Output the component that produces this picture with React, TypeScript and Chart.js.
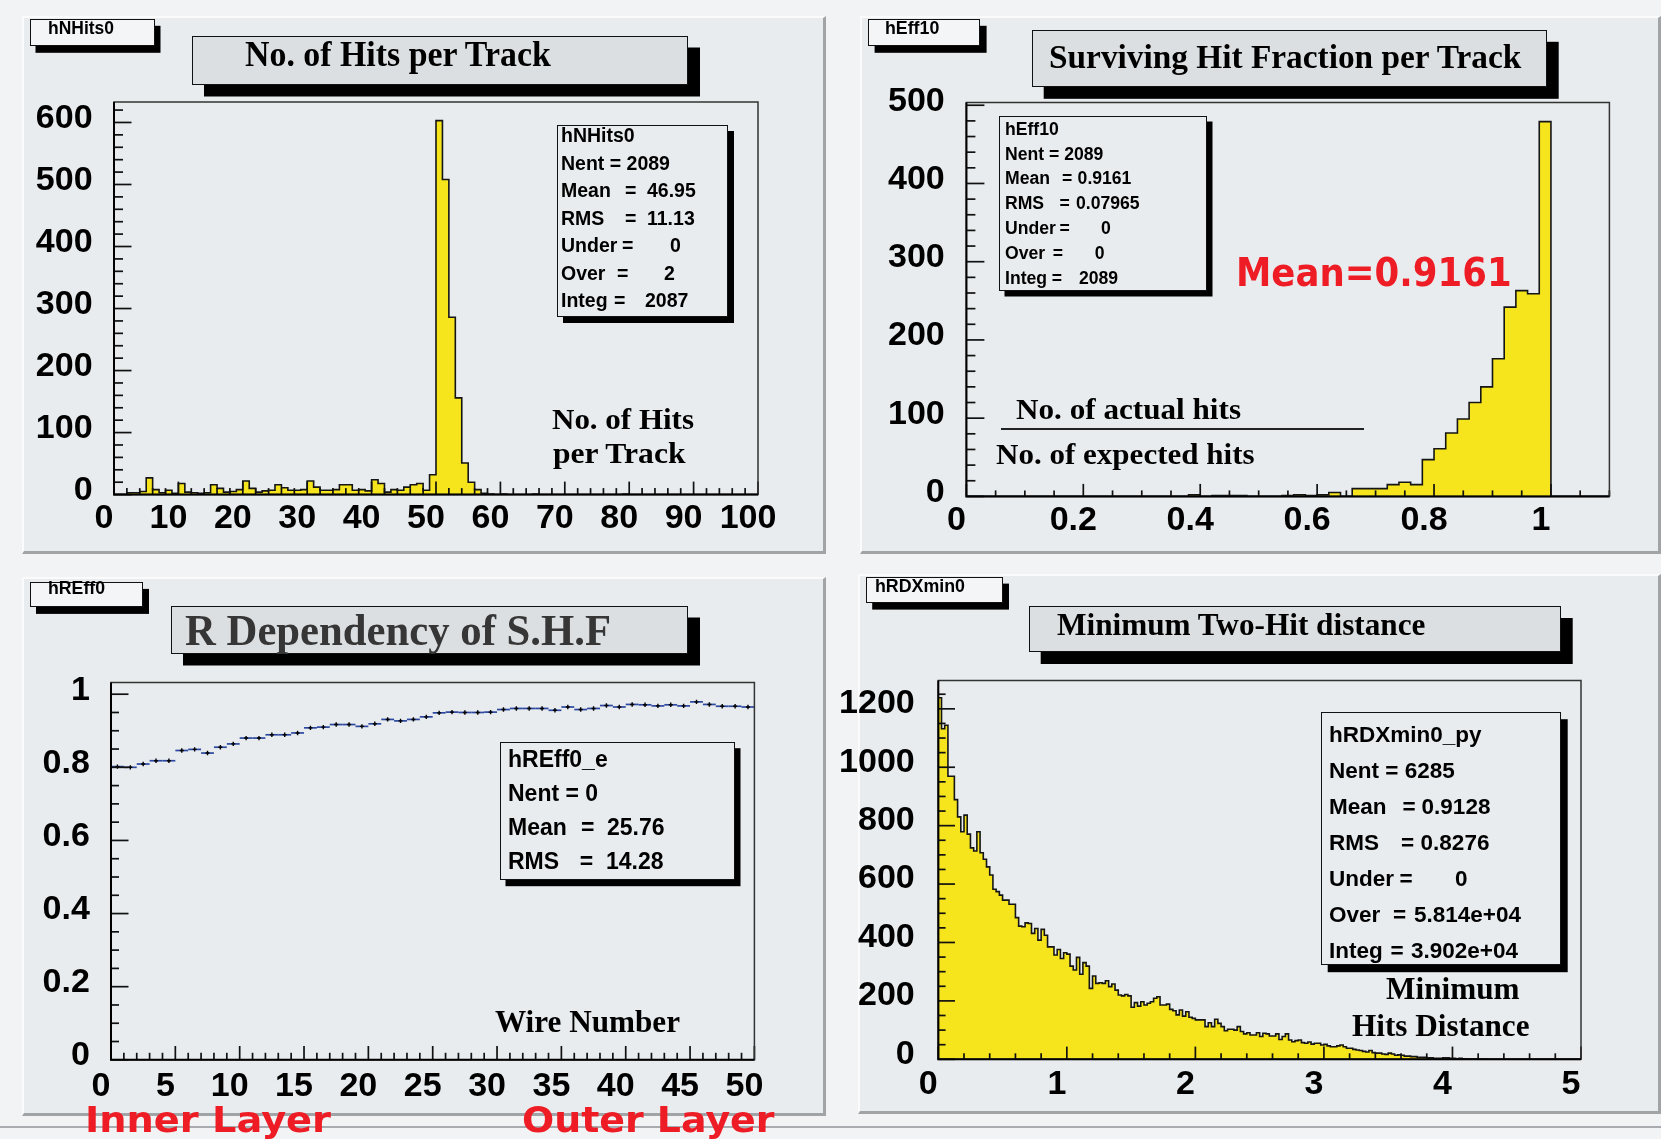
import React, { useEffect, useRef } from "react";
import { Chart, registerables } from "chart.js";

Chart.register(...registerables);

// ================= DATA =================
// Panel 1: No. of hits per track (100 bins, 0..100)
const nHitsRange = [0, 100];
const nHitsCounts = [
  0, 0, 3, 3, 5, 27, 8, 3, 7, 2,
  18, 4, 3, 2, 3, 16, 10, 4, 5, 8,
  22, 10, 4, 6, 7, 16, 11, 7, 7, 8,
  22, 12, 7, 7, 8, 16, 16, 7, 8, 6,
  24, 18, 4, 8, 7, 12, 16, 18, 7, 32,
  603, 508, 286, 156, 51, 20, 8, 2, 1, 0,
  1, 0, 0, 0, 0, 1, 0, 0, 0, 0,
  0, 0, 0, 0, 0, 0, 0, 0, 0, 1,
  0, 0, 0, 0, 0, 0, 0, 0, 0, 0,
  0, 0, 0, 0, 0, 0, 0, 0, 0, 0,
];
const nHitsXTicks = [0, 10, 20, 30, 40, 50, 60, 70, 80, 90, 100];
const nHitsYTicks = [0, 100, 200, 300, 400, 500, 600];
const nHitsStatsRows: [string, string][] = [
  ["Nent", "2089"], ["Mean", "46.95"], ["RMS", "11.13"], ["Under", "0"], ["Over", "2"], ["Integ", "2087"],
];

// Panel 2: surviving hit fraction (55 bins, 0..1.1)
const shfRange = [0, 1.1];
const shfCounts = [
  0, 0, 0, 0, 0, 0, 0, 0, 0, 0,
  0, 0, 0, 0, 0, 0, 0, 0, 0, 2,
  0, 1, 1, 1, 0, 0, 0, 1, 2, 1,
  2, 5, 0, 10, 10, 10, 15, 18, 15, 47,
  61, 81, 99, 120, 140, 176, 242, 263, 259, 479,
  0, 0, 0, 0, 0,
];
const shfXTicks = [0, 0.2, 0.4, 0.6, 0.8, 1];
const shfYTicks = [0, 100, 200, 300, 400, 500];
const shfStatsRows: [string, string][] = [
  ["Nent", "2089"], ["Mean", "0.9161"], ["RMS", "0.07965"], ["Under", "0"], ["Over", "0"], ["Integ", "2089"],
];

// Panel 3: R dependency of S.H.F (50 wires)
const rEffRange = [0, 50];
const rEffValues = [
  0.802, 0.800, 0.809, 0.818, 0.818, 0.846, 0.849, 0.839, 0.855, 0.864,
  0.880, 0.880, 0.889, 0.889, 0.894, 0.908, 0.910, 0.917, 0.917, 0.912,
  0.919, 0.931, 0.927, 0.931, 0.938, 0.949, 0.951, 0.950, 0.950, 0.951,
  0.958, 0.961, 0.961, 0.961, 0.956, 0.965, 0.958, 0.961, 0.969, 0.965,
  0.972, 0.971, 0.968, 0.971, 0.968, 0.979, 0.972, 0.967, 0.967, 0.965,
];
const rEffError = 0.006;
const rEffXTicks = [0, 5, 10, 15, 20, 25, 30, 35, 40, 45, 50];
const rEffYTicks = [0, 0.2, 0.4, 0.6, 0.8, 1];
const rEffStatsRows: [string, string][] = [["Nent", "0"], ["Mean", "25.76"], ["RMS", "14.28"]];

// Panel 4: minimum two-hit distance (200 bins, 0..5)
const dxRange = [0, 5];
const dxCounts = [
  1238, 1132, 1144, 969, 969, 889, 830, 779, 836, 771,
  724, 713, 779, 707, 685, 659, 631, 582, 574, 562,
  545, 545, 531, 531, 485, 456, 454, 467, 465, 431,
  448, 408, 445, 425, 385, 385, 357, 376, 345, 365,
  360, 319, 306, 349, 291, 331, 319, 243, 285, 260,
  262, 260, 269, 249, 258, 237, 220, 217, 222, 217,
  178, 194, 182, 197, 186, 192, 197, 209, 214, 186,
  186, 189, 171, 166, 152, 169, 148, 163, 144, 140,
  135, 135, 135, 112, 125, 112, 137, 123, 112, 98,
  103, 103, 100, 112, 95, 87, 91, 83, 83, 91,
  78, 89, 87, 80, 80, 87, 68, 78, 87, 66,
  60, 64, 66, 57, 55, 59, 52, 55, 55, 49,
  51, 46, 43, 43, 46, 49, 43, 38, 38, 34,
  32, 30, 27, 25, 30, 23, 21, 21, 18, 17,
  21, 18, 14, 15, 14, 11, 11, 9, 9, 7,
  7, 7, 5, 5, 3, 3, 3, 5, 5, 3,
  3, 2, 3, 2, 2, 1, 1, 1, 1, 1,
  1, 0, 0, 0, 0, 0, 0, 0, 0, 0,
  0, 0, 0, 0, 0, 0, 0, 0, 0, 0,
  0, 0, 0, 0, 0, 0, 0, 0, 0, 0,
];
const dxXTicks = [0, 1, 2, 3, 4, 5];
const dxYTicks = [0, 200, 400, 600, 800, 1000, 1200];
const dxStatsRows: [string, string][] = [
  ["Nent", "6285"], ["Mean", "0.9128"], ["RMS", "0.8276"], ["Under", "0"], ["Over", "5.814e+04"], ["Integ", "3.902e+04"],
];

// ================= STYLE =================
const SANS = '"Liberation Sans", Arial, Helvetica, sans-serif';
const SERIF = '"Liberation Serif", "Times New Roman", serif';
const COMIC = '"DejaVu Sans", sans-serif';
const PAGE_BG = "#f2f3f4";
const PANEL_BG = "#e8ecee";
const TITLE_BG = "#dcdfe1";
const LABEL_BG = "#f3f5f6";
const YELLOW = "#f6e41d";
const RED = "#ee1c25";

interface AxisSpec {
  min: number; max: number; ticks: number[]; minor: number;
  len: number; minorLen: number; pad: number; off: number; font: number;
}
interface ChartSpec {
  left: number; top: number; w: number; h: number;
  padT: number; padR: number; yW: number; xH: number;
  x: AxisSpec; y: AxisSpec; datasets: any[]; plugins?: any[];
}

function fmt(v: number) {
  return String(Math.round(v * 1000) / 1000);
}

function histPoints(counts: number[], range: number[]) {
  const w = (range[1] - range[0]) / counts.length;
  const pts: { x: number; y: number }[] = [{ x: range[0], y: 0 }];
  counts.forEach((c, i) => pts.push({ x: range[0] + i * w, y: c }));
  pts.push({ x: range[1], y: counts[counts.length - 1] });
  pts.push({ x: range[1], y: 0 });
  return pts;
}

function histDataset(counts: number[], range: number[]) {
  return {
    data: histPoints(counts, range),
    stepped: "before",
    fill: "origin",
    backgroundColor: YELLOW,
    borderColor: "#151515",
    borderWidth: 1.6,
    pointRadius: 0,
    tension: 0,
  };
}

function axisOpts(a: AxisSpec, isX: boolean, fit: number) {
  return {
    type: "linear",
    min: a.min,
    max: a.max,
    grid: { display: false, drawTicks: false },
    border: { display: false },
    afterBuildTicks: (s: any) => {
      s.ticks = a.ticks.map((v) => ({ value: v }));
    },
    afterFit: (s: any) => {
      if (isX) s.height = fit;
      else s.width = fit;
    },
    ticks: {
      autoSkip: false,
      maxRotation: 0,
      minRotation: 0,
      padding: a.pad,
      labelOffset: a.off,
      color: "#000",
      font: { family: SANS, size: a.font, weight: "bold", lineHeight: 1.2 },
      callback: (v: any) => fmt(Number(v)),
    },
  };
}

function framePlugin(spec: ChartSpec) {
  return {
    id: "rootFrame",
    afterDatasetsDraw(chart: any) {
      const { ctx, chartArea: a } = chart;
      const xs = chart.scales.x;
      const ys = chart.scales.y;
      ctx.save();
      ctx.lineCap = "butt";
      ctx.strokeStyle = "#111";
      const drawTicks = (ax: AxisSpec, isX: boolean) => {
        const n = Math.round((ax.max - ax.min) / ax.minor + 1e-6);
        for (let i = 0; i <= n; i++) {
          const v = ax.min + i * ax.minor;
          if (v > ax.max + 1e-9) break;
          const major = ax.ticks.some((t) => Math.abs(t - v) < ax.minor * 1e-3);
          const L = major ? ax.len : ax.minorLen;
          ctx.lineWidth = 1.7;
          ctx.beginPath();
          if (isX) {
            const px = xs.getPixelForValue(v);
            ctx.moveTo(px, a.bottom);
            ctx.lineTo(px, a.bottom - L);
          } else {
            const py = ys.getPixelForValue(v);
            ctx.moveTo(a.left, py);
            ctx.lineTo(a.left + L, py);
          }
          ctx.stroke();
        }
      };
      drawTicks(spec.x, true);
      drawTicks(spec.y, false);
      ctx.lineWidth = 1.5;
      ctx.strokeStyle = "#333";
      ctx.strokeRect(a.left, a.top, a.right - a.left, a.bottom - a.top);
      ctx.lineWidth = 2;
      ctx.strokeStyle = "#000";
      ctx.beginPath();
      ctx.moveTo(a.left, a.top);
      ctx.lineTo(a.left, a.bottom);
      ctx.lineTo(a.right, a.bottom);
      ctx.stroke();
      ctx.restore();
    },
  };
}

const errorBarPlugin = {
  id: "errBars",
  afterDatasetsDraw(chart: any) {
    const meta = chart.getDatasetMeta(0);
    const xs = chart.scales.x;
    const ys = chart.scales.y;
    const ctx = chart.ctx;
    const w = (rEffRange[1] - rEffRange[0]) / rEffValues.length;
    ctx.save();
    rEffValues.forEach((v, i) => {
      const pt = meta.data[i];
      if (!pt) return;
      const x0 = xs.getPixelForValue(rEffRange[0] + i * w);
      const x1 = xs.getPixelForValue(rEffRange[0] + (i + 1) * w);
      ctx.strokeStyle = "#2c48a0";
      ctx.lineWidth = 1.7;
      ctx.beginPath();
      ctx.moveTo(x0, pt.y);
      ctx.lineTo(x1, pt.y);
      ctx.stroke();
      ctx.strokeStyle = "#000";
      ctx.lineWidth = 1.4;
      ctx.beginPath();
      ctx.moveTo(pt.x, ys.getPixelForValue(v + rEffError));
      ctx.lineTo(pt.x, ys.getPixelForValue(v - rEffError));
      ctx.moveTo(pt.x - 2, pt.y);
      ctx.lineTo(pt.x + 2, pt.y);
      ctx.stroke();
    });
    ctx.restore();
  },
};

function RootChart({ spec }: { spec: ChartSpec }) {
  const ref = useRef<HTMLCanvasElement>(null);
  useEffect(() => {
    if (!ref.current) return;
    const chart = new Chart(ref.current, {
      type: "line",
      data: { datasets: spec.datasets },
      options: {
        responsive: false,
        animation: false,
        devicePixelRatio: 1,
        events: [],
        layout: { padding: { top: spec.padT, right: spec.padR, left: 0, bottom: 0 } },
        plugins: { legend: { display: false }, tooltip: { enabled: false }, title: { display: false } },
        scales: { x: axisOpts(spec.x, true, spec.xH), y: axisOpts(spec.y, false, spec.yW) },
      } as any,
      plugins: [...(spec.plugins || []), framePlugin(spec)],
    } as any);
    return () => chart.destroy();
  }, []);
  return (
    <canvas
      ref={ref}
      width={spec.w}
      height={spec.h}
      style={{ position: "absolute", left: spec.left, top: spec.top, width: spec.w, height: spec.h }}
    />
  );
}

// ================= HTML overlay helpers =================
let mctx: CanvasRenderingContext2D | null = null;
function textWidth(text: string, font: string) {
  if (!mctx) mctx = document.createElement("canvas").getContext("2d");
  if (!mctx) return 0;
  mctx.font = font;
  return mctx.measureText(text).width;
}

function Txt(p: {
  x: number; cy: number; text: string; size: number; family?: string; weight?: string;
  color?: string; width?: number; vf?: number;
}) {
  const family = p.family || SANS;
  const weight = p.weight || "bold";
  let sx = 1;
  if (p.width) {
    const w = textWidth(p.text, `${weight} ${p.size}px ${family}`);
    if (w > 0) sx = p.width / w;
  }
  const vf = p.vf ?? 0.5;
  return (
    <div
      style={{
        position: "absolute",
        left: p.x,
        top: p.cy - p.size * vf,
        fontFamily: family,
        fontSize: p.size,
        fontWeight: weight as any,
        lineHeight: `${p.size}px`,
        color: p.color || "#000",
        whiteSpace: "pre",
        transform: sx !== 1 ? `scaleX(${sx})` : undefined,
        transformOrigin: "0 0",
      }}
    >
      {p.text}
    </div>
  );
}

function Box(p: { l: number; t: number; r: number; b: number; bg: string; sh: [number, number]; bw?: number }) {
  return (
    <div
      style={{
        position: "absolute",
        left: p.l,
        top: p.t,
        width: p.r - p.l,
        height: p.b - p.t,
        background: p.bg,
        border: `${p.bw ?? 1.5}px solid #111`,
        boxSizing: "border-box",
        boxShadow: `${p.sh[0]}px ${p.sh[1]}px 0 0 #000`,
      }}
    />
  );
}

function Panel(p: { l: number; t: number; r: number; b: number }) {
  return (
    <div
      style={{
        position: "absolute",
        left: p.l,
        top: p.t,
        width: p.r - p.l,
        height: p.b - p.t,
        background: PANEL_BG,
        borderTop: "2px solid #fbfbfb",
        borderLeft: "2px solid #fbfbfb",
        borderRight: "3px solid #a0a4a7",
        borderBottom: "3px solid #a0a4a7",
        boxSizing: "border-box",
      }}
    />
  );
}

interface StatsSpec {
  l: number; t: number; r: number; b: number; sh: [number, number];
  textX: number; y0: number; dy: number; size: number;
  title: string; rows: [string, string][]; eqX: (number | null)[]; valX: (number | null)[];
}

function Stats({ s }: { s: StatsSpec }) {
  return (
    <>
      <Box l={s.l} t={s.t} r={s.r} b={s.b} bg={PANEL_BG} sh={s.sh} />
      <Txt x={s.textX} cy={s.y0} size={s.size} text={s.title} vf={0.49} />
      {s.rows.map((r, i) => {
        const cy = s.y0 + s.dy * (i + 1);
        const eq = s.eqX[i];
        const vx = s.valX[i];
        if (eq == null || vx == null) {
          return <Txt key={i} x={s.textX} cy={cy} size={s.size} text={`${r[0]} = ${r[1]}`} vf={0.49} />;
        }
        return (
          <React.Fragment key={i}>
            <Txt x={s.textX} cy={cy} size={s.size} text={r[0]} vf={0.49} />
            <Txt x={eq} cy={cy} size={s.size} text="=" vf={0.49} />
            <Txt x={vx} cy={cy} size={s.size} text={r[1]} vf={0.49} />
          </React.Fragment>
        );
      })}
    </>
  );
}

// ================= CHART SPECS =================
const spec1: ChartSpec = {
  left: 22, top: 16, w: 804, h: 538, padT: 86, padR: 68, yW: 92, xH: 59.4,
  x: { min: nHitsRange[0], max: nHitsRange[1], ticks: nHitsXTicks, minor: 2, len: 13, minorLen: 6.5, pad: 4, off: -10, font: 34 },
  y: { min: 0, max: 633, ticks: nHitsYTicks, minor: 20, len: 17.5, minorLen: 9, pad: 21.4, off: -4, font: 34 },
  datasets: [histDataset(nHitsCounts, nHitsRange)],
};

const spec2: ChartSpec = {
  left: 860, top: 16, w: 801, h: 538, padT: 86.5, padR: 51.6, yW: 106.4, xH: 57.6,
  x: { min: shfRange[0], max: shfRange[1], ticks: shfXTicks, minor: 0.05, len: 12.5, minorLen: 6, pad: 4, off: -10, font: 34 },
  y: { min: 0, max: 503.5, ticks: shfYTicks, minor: 20, len: 18, minorLen: 9, pad: 21.7, off: -4, font: 34 },
  datasets: [histDataset(shfCounts, shfRange)],
};

const spec3: ChartSpec = {
  left: 22, top: 577, w: 804, h: 539, padT: 105.5, padR: 71.6, yW: 89, xH: 56.2,
  x: { min: rEffRange[0], max: rEffRange[1], ticks: rEffXTicks, minor: 1, len: 13.8, minorLen: 7, pad: 6, off: -10, font: 34 },
  y: { min: 0, max: 1.032, ticks: rEffYTicks, minor: 0.05, len: 17.5, minorLen: 8, pad: 21.2, off: -4, font: 34 },
  datasets: [
    {
      data: rEffValues.map((v, i) => ({
        x: rEffRange[0] + ((i + 0.5) * (rEffRange[1] - rEffRange[0])) / rEffValues.length,
        y: v,
      })),
      showLine: false,
      pointRadius: 0,
      borderColor: "#2c48a0",
      backgroundColor: "#2c48a0",
    },
  ],
  plugins: [errorBarPlugin],
};

const spec4: ChartSpec = {
  left: 828, top: 574, w: 833, h: 540, padT: 106.5, padR: 80, yW: 110.3, xH: 54.7,
  x: { min: dxRange[0], max: dxRange[1], ticks: dxXTicks, minor: 0.2, len: 12.7, minorLen: 6, pad: 5, off: -10, font: 34 },
  y: { min: 0, max: 1297, ticks: dxYTicks, minor: 50, len: 16.7, minorLen: 7.3, pad: 23.6, off: -5, font: 34 },
  datasets: [histDataset(dxCounts, dxRange)],
};

const stats1: StatsSpec = {
  l: 557, t: 125, r: 728, b: 317, sh: [6, 6], textX: 561, y0: 136, dy: 27.5, size: 19.5,
  title: "hNHits0", rows: nHitsStatsRows,
  eqX: [null, 625, 625, 622, 617, 614], valX: [null, 647, 647, 670, 664, 645],
};
const stats2: StatsSpec = {
  l: 998.5, t: 116, r: 1207, b: 291, sh: [5.5, 5.5], textX: 1005, y0: 129.5, dy: 24.8, size: 17.6,
  title: "hEff10", rows: shfStatsRows,
  eqX: [null, 1062, 1059.5, 1059.5, 1052.8, 1051.8], valX: [null, 1077.6, 1076, 1101, 1094.7, 1079],
};
const stats3: StatsSpec = {
  l: 499.7, t: 742.3, r: 734.8, b: 880.2, sh: [5.5, 6.2], textX: 508, y0: 759.4, dy: 34.1, size: 23,
  title: "hREff0_e", rows: rEffStatsRows,
  eqX: [null, 581, 579.7], valX: [null, 607, 606],
};
const stats4: StatsSpec = {
  l: 1320.8, t: 712.2, r: 1561.3, b: 964.8, sh: [6.7, 7.2], textX: 1329, y0: 735, dy: 36, size: 22.5,
  title: "hRDXmin0_py", rows: dxStatsRows,
  eqX: [null, 1402.5, 1401, 1399.5, 1393, 1390.6], valX: [null, 1421.6, 1420.6, 1455, 1414, 1411],
};

export default function App() {
  return (
    <div
      style={{
        position: "absolute",
        left: 0,
        top: 0,
        width: 1661,
        height: 1139,
        background: PAGE_BG,
        overflow: "hidden",
        fontFamily: SANS,
      }}
    >
      <Panel l={22} t={16} r={826} b={554} />
      <Panel l={860} t={16} r={1661} b={554} />
      <Panel l={22} t={577} r={826} b={1116} />
      <Panel l={858} t={574} r={1661} b={1114} />
      <div style={{ position: "absolute", left: 0, top: 1126, width: 1661, height: 2, background: "#a8acb0" }} />

      <RootChart spec={spec1} />
      <RootChart spec={spec2} />
      <RootChart spec={spec3} />
      <RootChart spec={spec4} />

      {/* name boxes */}
      <Box l={30} t={18.6} r={155} b={45.7} bg={LABEL_BG} sh={[5.5, 6.8]} />
      <Txt x={47.6} cy={28.4} size={17.5} text="hNHits0" width={66} vf={0.49} />
      <Box l={868} t={18.6} r={980.4} b={45.7} bg={LABEL_BG} sh={[6.6, 6.8]} />
      <Txt x={884.7} cy={28.4} size={17.5} text="hEff10" width={54.3} vf={0.49} />
      <Box l={30} t={581.6} r={143} b={607.4} bg={LABEL_BG} sh={[6, 6.9]} />
      <Txt x={47.6} cy={589} size={17.5} text="hREff0" width={57} vf={0.49} />
      <Box l={865.5} t={576.5} r={1002.6} b={603.4} bg={LABEL_BG} sh={[6.2, 6.6]} />
      <Txt x={874.8} cy={586.4} size={17.5} text="hRDXmin0" width={90} vf={0.49} />

      {/* title boxes */}
      <Box l={191.6} t={36.4} r={688} b={85} bg={TITLE_BG} sh={[12, 11.5]} />
      <Txt x={244.6} cy={54.5} size={36} family={SERIF} text="No. of Hits per Track" width={307} vf={0.51} />
      <Box l={1032} t={30.4} r={1547} b={87.5} bg={TITLE_BG} sh={[11.7, 11.8]} />
      <Txt x={1049} cy={57} size={34.5} family={SERIF} text="Surviving Hit Fraction per Track" width={473.5} vf={0.51} />
      <Box l={170.5} t={605.6} r={688} b={654.5} bg={TITLE_BG} sh={[12, 11.5]} />
      <Txt x={185} cy={631.7} size={44} family={SERIF} text="R Dependency of S.H.F" width={426} color="#363636" vf={0.51} />
      <Box l={1028.5} t={605.6} r={1561} b={651.6} bg={TITLE_BG} sh={[11.7, 12]} />
      <Txt x={1057} cy={625.4} size={30.5} family={SERIF} text="Minimum Two-Hit distance" width={369} vf={0.51} />

      {/* stats boxes */}
      <Stats s={stats1} />
      <Stats s={stats2} />
      <Stats s={stats3} />
      <Stats s={stats4} />

      {/* annotations */}
      <Txt x={551.6} cy={419.6} size={30} family={SERIF} text="No. of Hits" width={142} vf={0.51} />
      <Txt x={553} cy={453.6} size={30} family={SERIF} text="per Track" width={133.6} vf={0.51} />

      <Txt x={1015.5} cy={409} size={30} family={SERIF} text="No. of actual hits" width={225} vf={0.51} />
      <div style={{ position: "absolute", left: 1001, top: 428.3, width: 362.7, height: 2, background: "#222" }} />
      <Txt x={996.4} cy={454.3} size={30} family={SERIF} text="No. of expected hits" width={258.6} vf={0.51} />
      <Txt x={1236} cy={271.7} size={39} family={COMIC} text="Mean=0.9161" width={275.7} color={RED} vf={0.48} />

      <Txt x={495} cy={1021.7} size={31} family={SERIF} text="Wire Number" width={185} vf={0.51} />
      <Txt x={84.7} cy={1119.5} size={36} family={COMIC} text="Inner Layer" width={246} color={RED} vf={0.48} />
      <Txt x={521.5} cy={1119.5} size={36} family={COMIC} text="Outer Layer" width={252.5} color={RED} vf={0.48} />

      <Txt x={1385.5} cy={989} size={31} family={SERIF} text="Minimum" width={133.5} vf={0.51} />
      <Txt x={1351.8} cy={1025.4} size={31} family={SERIF} text="Hits Distance" width={177.5} vf={0.51} />
    </div>
  );
}
